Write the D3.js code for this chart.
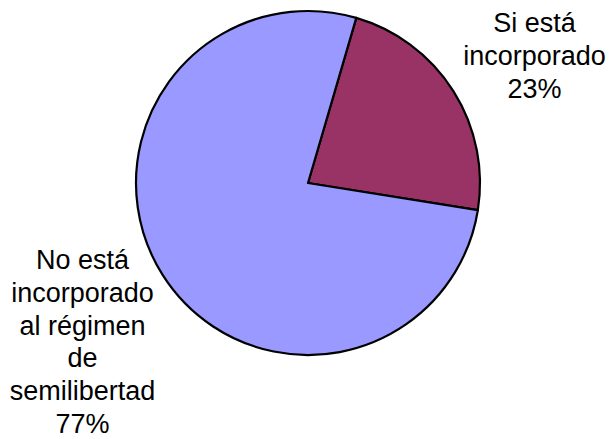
<!DOCTYPE html>
<html>
<head>
<meta charset="utf-8">
<script src="https://cdn.jsdelivr.net/npm/d3@7"></script>
<style>
  html, body { margin: 0; padding: 0; background: #fff; }
  svg { display: block; }
</style>
</head>
<body>
<div id="chart"></div>
<script>
// data
const categories = ["Si está incorporado", "No está incorporado al régimen de semilibertad"];
const values = [23, 77];
const labelLines = [
  ["Si está", "incorporado", "23%"],
  ["No está", "incorporado", "al régimen", "de", "semilibertad", "77%"]
];
const colors = ["#993366", "#9999FF"];

const width = 609, height = 439;
const cx = 308, cy = 183, radius = 172;
const lineHeight = 32.8;

const svg = d3.select("#chart")
  .append("svg")
  .attr("width", width)
  .attr("height", height);

const g = svg.append("g").attr("transform", `translate(${cx},${cy})`);

// first slice starts a bit right of 12 o'clock
const pie = d3.pie().sort(null).startAngle(16.3 * Math.PI / 180).endAngle(16.3 * Math.PI / 180 + 2 * Math.PI);
const arcs = pie(values);

const arc = d3.arc().innerRadius(0).outerRadius(radius);

g.selectAll("path.slice")
  .data(arcs)
  .enter()
  .append("path")
  .attr("class", "slice")
  .attr("d", arc)
  .attr("fill", (d, i) => colors[i])
  .attr("stroke", "#000")
  .attr("stroke-width", 2.2)
  .attr("stroke-linejoin", "round");

// labels outside the pie, centred text blocks
const labelArc = d3.arc().innerRadius(262).outerRadius(262);
const nudge = [[5, 13], [-4, 19]];

g.selectAll("text.lbl")
  .data(arcs)
  .enter()
  .append("text")
  .attr("class", "lbl")
  .attr("text-anchor", "middle")
  .attr("font-family", "Liberation Sans, Arial, sans-serif")
  .attr("font-size", 27)
  .attr("fill", "#000")
  .each(function (d, i) {
    const c = labelArc.centroid(d);
    const lines = labelLines[i];
    const x = c[0] + nudge[i][0];
    const y0 = c[1] + nudge[i][1] - (lines.length - 1) * lineHeight / 2 + 9;
    d3.select(this).selectAll("tspan")
      .data(lines)
      .enter()
      .append("tspan")
      .attr("x", x)
      .attr("y", (t, k) => y0 + k * lineHeight)
      .text(t => t);
  });
</script>
</body>
</html>
